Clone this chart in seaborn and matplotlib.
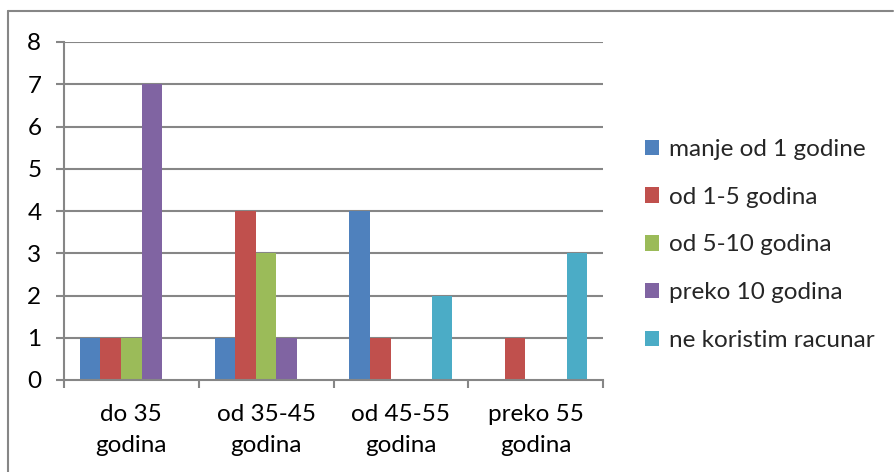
import matplotlib
matplotlib.use("Agg")
import matplotlib.pyplot as plt
from matplotlib.lines import Line2D
from matplotlib.patches import Patch
import seaborn as sns
import pandas as pd

# Age groups (x categories) and computer-use experience (series)
categories = ["do 35\ngodina", "od 35-45\ngodina", "od 45-55\ngodina", "preko 55\ngodina"]
series = ["manje od 1 godine", "od 1-5 godina", "od 5-10 godina",
          "preko 10 godina", "ne koristim racunar"]
values = {
    "manje od 1 godine":   [1, 1, 4, 0],
    "od 1-5 godina":       [1, 4, 1, 1],
    "od 5-10 godina":      [1, 3, 0, 0],
    "preko 10 godina":     [7, 1, 0, 0],
    "ne koristim racunar": [0, 0, 2, 3],
}
y_ticks = [0, 1, 2, 3, 4, 5, 6, 7, 8]
colors = ["#4F81BD", "#C0504D", "#9BBB59", "#8064A2", "#4BACC6"]

rows = [(c, s, values[s][i]) for s in series for i, c in enumerate(categories)]
df = pd.DataFrame(rows, columns=["grupa", "iskustvo", "broj"])

sns.set_theme(style="white")
plt.rcParams["font.family"] = ["Lato", "DejaVu Sans"]

W, H = 894, 472
FS = 17.5
fig = plt.figure(figsize=(W / 100, H / 100), dpi=100)
fig.patch.set_facecolor("white")

# plot area in pixel coordinates
x0, x1, y_top, y_bot = 64, 603, 42, 380
ax = fig.add_axes([x0 / W, 1 - y_bot / H, (x1 - x0) / W, (y_bot - y_top) / H])

grid_c = "#868686"
sns.barplot(data=df, x="grupa", y="broj", hue="iskustvo", order=categories,
            hue_order=series, palette=colors, width=0.764, gap=0,
            saturation=1, edgecolor="none", linewidth=0, ax=ax, legend=False)

ax.set_xlim(-0.5, len(categories) - 0.5)
ax.set_ylim(0, 8)
ax.set_yticks(y_ticks)
ax.set_xlabel("")
ax.set_ylabel("")

# horizontal gridlines that run into the y tick marks
for v in y_ticks[1:]:
    ax.axhline(v, color=grid_c, lw=1.5, zorder=0)

for side in ["top", "right"]:
    ax.spines[side].set_visible(False)
for side in ["left", "bottom"]:
    ax.spines[side].set_color(grid_c)
    ax.spines[side].set_linewidth(1.5)

ax.tick_params(axis="y", which="major", length=5.8, width=1.5, color=grid_c,
               labelsize=FS, labelcolor="black", pad=10.5, left=True)
ax.set_xticks(range(len(categories)))
ax.set_xticklabels(categories, linespacing=1.6)
ax.tick_params(axis="x", which="major", length=0, labelsize=FS,
               labelcolor="black", pad=17)
ax.set_xticks([i - 0.5 for i in range(len(categories) + 1)], minor=True)
ax.tick_params(axis="x", which="minor", length=5.8, width=1.5, color=grid_c,
               bottom=True)

# legend
handles = [Patch(facecolor=c, edgecolor="none") for c in colors]
fig.legend(handles, series, loc="center left",
           bbox_to_anchor=(635 / W, 1 - 245 / H), frameon=False,
           fontsize=FS, handlelength=0.6, handleheight=0.6,
           handletextpad=0.4, labelspacing=1.1, borderaxespad=0)

# chart border (top and left edges)
fig.add_artist(Line2D([8 / W, 8 / W], [1 - 11 / H, 0], transform=fig.transFigure,
                      color=grid_c, lw=1.5))
fig.add_artist(Line2D([8 / W, 893 / W], [1 - 11 / H, 1 - 11 / H],
                      transform=fig.transFigure, color=grid_c, lw=1.5))

fig.savefig("out.png", dpi=100, facecolor="white")
